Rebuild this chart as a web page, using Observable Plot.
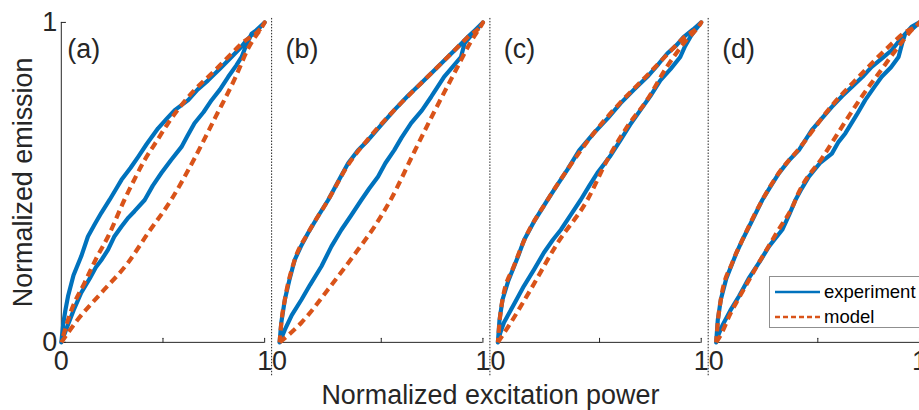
<!DOCTYPE html>
<html><head><meta charset="utf-8">
<script src="https://cdn.jsdelivr.net/npm/d3@7"></script>
<script src="https://cdn.jsdelivr.net/npm/@observablehq/plot@0.6"></script>
<style>
html,body{margin:0;padding:0;background:#fff;overflow:hidden;width:919px;height:410px}
#wrap{position:relative;width:919px;height:410px;overflow:hidden}
#legend{position:absolute;left:769px;top:276px;width:160px;height:52px;border:1px solid #8f8f8f;background:#fff;font-family:"Liberation Sans",Arial,sans-serif;font-size:18.5px;color:#000;box-sizing:border-box}
.item{position:absolute;left:5px;height:22px;display:flex;align-items:center}
.item svg{margin-right:4px}
</style></head><body><div id="wrap"><div id="legend"></div></div>
<script>
const panels = ["a", "b", "c", "d"];
const panelLabels = ["(a)", "(b)", "(c)", "(d)"];
const seriesNames = ["experiment", "model"];
const xTicks = [0, 0.5, 1];
const xLabelTicks = [0, 1];
const yTicks = [0, 1];

// panel (a)
const expA_lo = [[0,0],[0.03,0.05],[0.06,0.1],[0.098,0.155],[0.14,0.2],[0.17,0.235],[0.2,0.26],[0.23,0.29],[0.26,0.33],[0.296,0.362],[0.33,0.39],[0.36,0.41],[0.41,0.445],[0.45,0.49],[0.493,0.53],[0.54,0.57],[0.591,0.611],[0.62,0.645],[0.655,0.685],[0.7,0.72],[0.739,0.757],[0.78,0.79],[0.821,0.83],[0.86,0.865],[0.887,0.892],[0.91,0.93],[0.936,0.965],[0.97,0.98],[1,1]];
const expA_up = [[0,0],[0.01,0.06],[0.02,0.1],[0.033,0.144],[0.06,0.21],[0.098,0.269],[0.131,0.331],[0.165,0.37],[0.197,0.405],[0.237,0.445],[0.27,0.48],[0.296,0.508],[0.34,0.545],[0.378,0.58],[0.42,0.62],[0.476,0.669],[0.52,0.7],[0.558,0.726],[0.624,0.757],[0.67,0.79],[0.722,0.819],[0.78,0.855],[0.837,0.892],[0.88,0.92],[0.911,0.944],[0.95,0.97],[1,1]];
const modA_lo = [[0,0],[0.082,0.072],[0.197,0.155],[0.328,0.249],[0.427,0.342],[0.54,0.445],[0.655,0.575],[0.755,0.7],[0.854,0.825],[0.92,0.92],[1,1]];
const modA_up = [[0,0],[0.049,0.1],[0.115,0.187],[0.17,0.26],[0.23,0.331],[0.31,0.445],[0.36,0.51],[0.41,0.57],[0.47,0.63],[0.525,0.685],[0.624,0.767],[0.755,0.85],[0.887,0.934],[1,1]];
// panel (b)
const expB_lo = [[0,0],[0.026,0.04],[0.06,0.085],[0.108,0.134],[0.15,0.18],[0.206,0.238],[0.255,0.3],[0.304,0.352],[0.35,0.395],[0.402,0.445],[0.44,0.48],[0.484,0.518],[0.52,0.56],[0.564,0.601],[0.6,0.64],[0.647,0.685],[0.7,0.725],[0.745,0.767],[0.809,0.83],[0.85,0.86],[0.892,0.892],[0.91,0.935],[0.95,0.965],[1,1]];
const expB_up = [[0,0],[0.008,0.06],[0.026,0.134],[0.05,0.2],[0.075,0.259],[0.105,0.3],[0.14,0.342],[0.19,0.395],[0.239,0.445],[0.29,0.505],[0.337,0.56],[0.385,0.6],[0.435,0.632],[0.5,0.68],[0.564,0.726],[0.63,0.77],[0.696,0.81],[0.76,0.85],[0.827,0.892],[0.88,0.925],[0.925,0.954],[0.96,0.975],[1,1]];
const modB_lo = [[0,0],[0.108,0.062],[0.239,0.166],[0.386,0.29],[0.47,0.365],[0.55,0.45],[0.662,0.595],[0.76,0.72],[0.858,0.84],[0.941,0.94],[1,1]];
const modB_up = [[0,0],[0.01,0.07],[0.026,0.134],[0.075,0.259],[0.14,0.342],[0.239,0.445],[0.337,0.555],[0.435,0.635],[0.564,0.726],[0.696,0.81],[0.827,0.892],[0.925,0.954],[1,1]];
// panel (c)
const expC_lo = [[0,0],[0.012,0.03],[0.03,0.062],[0.08,0.12],[0.128,0.176],[0.18,0.23],[0.226,0.28],[0.27,0.32],[0.31,0.352],[0.36,0.4],[0.407,0.445],[0.45,0.49],[0.489,0.529],[0.55,0.58],[0.603,0.632],[0.65,0.68],[0.701,0.726],[0.75,0.77],[0.799,0.819],[0.85,0.855],[0.897,0.892],[0.92,0.925],[0.946,0.954],[0.975,0.98],[1,1]];
const expC_up = [[0,0],[0.008,0.07],[0.023,0.134],[0.05,0.19],[0.08,0.238],[0.1,0.27],[0.129,0.32],[0.18,0.38],[0.244,0.445],[0.29,0.49],[0.342,0.54],[0.4,0.6],[0.472,0.654],[0.54,0.7],[0.603,0.747],[0.67,0.79],[0.735,0.83],[0.79,0.87],[0.833,0.903],[0.88,0.93],[0.913,0.954],[0.96,0.978],[1,1]];
const modC_lo = [[0,0],[0.064,0.062],[0.162,0.166],[0.293,0.31],[0.44,0.445],[0.538,0.57],[0.636,0.674],[0.733,0.757],[0.831,0.861],[0.913,0.934],[1,1]];
const modC_up = [[0,0],[0.01,0.075],[0.023,0.134],[0.08,0.24],[0.129,0.318],[0.244,0.445],[0.342,0.54],[0.472,0.654],[0.603,0.75],[0.735,0.835],[0.833,0.9],[0.913,0.952],[1,1]];
// panel (d)
const expD_lo = [[0,0],[0.012,0.025],[0.03,0.052],[0.07,0.1],[0.113,0.145],[0.16,0.2],[0.211,0.249],[0.26,0.3],[0.325,0.352],[0.36,0.4],[0.39,0.445],[0.42,0.48],[0.456,0.518],[0.51,0.56],[0.569,0.59],[0.6,0.625],[0.635,0.653],[0.69,0.71],[0.733,0.757],[0.78,0.8],[0.814,0.83],[0.86,0.86],[0.897,0.892],[0.915,0.935],[0.93,0.965],[0.965,0.98],[1,1]];
const expD_up = [[0,0],[0.008,0.07],[0.023,0.134],[0.05,0.2],[0.08,0.248],[0.1,0.28],[0.129,0.32],[0.18,0.385],[0.227,0.445],[0.27,0.49],[0.309,0.529],[0.36,0.57],[0.407,0.601],[0.471,0.664],[0.52,0.7],[0.569,0.736],[0.62,0.77],[0.667,0.798],[0.72,0.83],[0.765,0.861],[0.82,0.89],[0.863,0.913],[0.91,0.95],[0.961,0.986],[1,1]];
const modD_lo = [[0,0],[0.02,0.02],[0.07,0.09],[0.113,0.14],[0.211,0.25],[0.3,0.345],[0.38,0.43],[0.405,0.467],[0.525,0.58],[0.63,0.685],[0.715,0.767],[0.81,0.85],[0.895,0.923],[0.96,0.975],[1,1]];
const modD_up = [[0,0],[0.01,0.075],[0.023,0.134],[0.08,0.25],[0.129,0.32],[0.227,0.445],[0.309,0.53],[0.407,0.605],[0.569,0.74],[0.701,0.83],[0.83,0.913],[0.92,0.965],[1,1]];

const loops = [
  ["a", "experiment", expA_lo, expA_up], ["a", "model", modA_lo, modA_up],
  ["b", "experiment", expB_lo, expB_up], ["b", "model", modB_lo, modB_up],
  ["c", "experiment", expC_lo, expC_up], ["c", "model", modC_lo, modC_up],
  ["d", "experiment", expD_lo, expD_up], ["d", "model", modD_lo, modD_up]
];
const rows = [];
for (const [panel, kind, lo, up] of loops) {
  const pts = lo.concat(up.slice().reverse());
  for (const [x, y] of pts) rows.push({panel, kind, id: panel + kind, x, y});
}

const blue = "#0072BD", orange = "#D95319", ink = "#262626";
const font = '"Liberation Sans", Arial, sans-serif';

const chart = Plot.plot({
  width: 922, height: 410,
  marginLeft: 60, marginRight: 0, marginTop: 22, marginBottom: 67,
  style: {fontFamily: font, fontSize: "27px", color: ink, background: "white", overflow: "visible"},
  fx: {domain: panels, paddingInner: 0.07, paddingOuter: 0, label: null, axis: null},
  x: {domain: [0, 1]},
  y: {domain: [0, 1]},
  marks: [
    Plot.ruleX(panels.slice(1), {fx: d => d, x: () => 0, dx: -8, insetTop: -4, insetBottom: -34, stroke: "#222", strokeWidth: 1, strokeDasharray: "1.5,1.5"}),
    Plot.ruleY([0], {stroke: ink}),
    Plot.ruleX(["a"], {fx: d => d, x: () => 0, stroke: ink}),
    Plot.vector(xTicks, {x: d => d, y: () => 0, length: 4, rotate: 0, anchor: "start", r: 0, stroke: ink, strokeWidth: 1}),
    Plot.vector(yTicks, {fx: () => "a", x: () => 0, y: d => d, length: 4, rotate: 90, anchor: "start", r: 0, stroke: ink, strokeWidth: 1}),
    Plot.axisX({ticks: xLabelTicks, tickSize: 0, tickPadding: 9, tickFormat: d => String(d), label: null, fontSize: 27}),
    Plot.axisY({ticks: yTicks, tickSize: 0, tickPadding: 4, tickFormat: d => String(d), label: "Normalized emission", labelAnchor: "center", labelOffset: 49, labelArrow: "none", fontSize: 27}),
    Plot.axisFx({anchor: "bottom", tickSize: 0, tickFormat: () => "", label: "Normalized excitation power", labelAnchor: "center", labelOffset: 62, labelArrow: "none", fontSize: 27}),
    Plot.line(rows.filter(d => d.kind === "experiment"), {fx: "panel", x: "x", y: "y", z: "id", stroke: blue, strokeWidth: 4.2, strokeLinejoin: "round"}),
    Plot.line(rows.filter(d => d.kind === "model"), {fx: "panel", x: "x", y: "y", z: "id", stroke: orange, strokeWidth: 4.2, strokeDasharray: "8,5", strokeLinecap: "butt", curve: "monotone-x"}),
    Plot.text(panelLabels, {fx: (d, i) => panels[i], frameAnchor: "top-left", dx: 6, dy: 17, text: d => d, textAnchor: "start", fontSize: 27, fill: ink})
  ]
});
document.getElementById("wrap").prepend(chart);

const legend = document.getElementById("legend");
seriesNames.forEach((name, i) => {
  const item = document.createElement("div");
  item.className = "item";
  item.style.top = (i === 0 ? 4 : 29) + "px";
  const dash = name === "model" ? 'stroke-dasharray="5,3"' : "";
  const col = name === "model" ? orange : blue;
  item.innerHTML = `<svg width="45" height="6"><line x1="0" y1="3" x2="45" y2="3" stroke="${col}" stroke-width="2.4" ${dash}/></svg><span>${name}</span>`;
  legend.appendChild(item);
});
</script></body></html>
